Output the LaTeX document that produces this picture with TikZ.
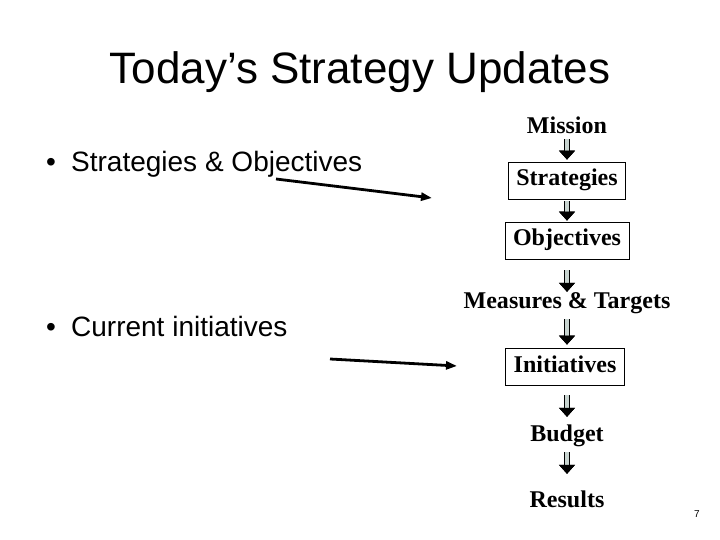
\documentclass[tikz,border=0pt]{standalone}
\usepackage{fontspec}
\setmainfont{Liberation Serif}
\setsansfont{Liberation Sans}
\usetikzlibrary{arrows.meta}
\definecolor{shaft}{RGB}{200,212,208}
\tikzset{
  step box/.style={draw, line width=0.8bp, minimum height=37bp, inner xsep=8bp,
    text height=16bp, text depth=5bp, font=\bfseries\fontsize{24bp}{28bp}\selectfont},
  step text/.style={anchor=base, inner sep=0pt, text height=16bp, text depth=5bp,
    font=\bfseries\fontsize{24bp}{28bp}\selectfont},
  point/.style={anchor=base west, inner sep=0pt, font=\sffamily\fontsize{28bp}{32bp}\selectfont},
  down/.style={line width=5.8bp,
    -{Triangle[length=9bp,width=16bp,line width=0.6bp,black]},
    postaction={draw=shaft, line width=4bp,
      -{Triangle[length=9bp,width=16bp,line width=0.6bp,black]}}},
  pointer/.style={line width=2.8bp, -{Triangle[length=11bp,width=8bp]}}
}
\begin{document}
\begin{tikzpicture}[x=1bp,y=-1bp]
      \useasboundingbox (0,0) rectangle (720,540);
      \node (title) at (360,84) [anchor=base, inner sep=0pt,
        font=\sffamily\fontsize{44bp}{50bp}\selectfont] {Today’s Strategy Updates};
      \draw
        (46,172) node[point] (a){\makebox[25bp][l]{•}Strategies \& Objectives}
        (46,336) node[point] (b){\makebox[25bp][l]{•}Current initiatives}
        (567,134) node[step text] (0){Mission}
        (567,180.5) node[step box] (1){Strategies}
        (567,240.5) node[step box] (2){Objectives}
        (567,308) node[step text] (3){Measures \& Targets}
        (565,366.5) node[step box] (4){Initiatives}
        (567,441) node[step text] (5){Budget}
        (567,507) node[step text] (6){Results};
      \node (page) at (697,517) [anchor=base, inner sep=0pt,
        font=\sffamily\fontsize{10bp}{12bp}\selectfont] {7};
      \coordinate (a1) at (276,179);
      \coordinate (a2) at (432,198);
      \coordinate (b1) at (330,359);
      \coordinate (b2) at (457,366);
      \draw[down, shorten >=2bp] (0.south) to (1.north);
      \draw[down, shorten <=2bp, shorten >=1bp] (1.south) to (2.north);
      \draw[down, shorten <=11bp] (2.south) to (3.north);
      \draw[down, shorten <=6bp, shorten >=3bp] (3.south) to (4.north -| 3.south);
      \draw[down, shorten <=10bp, shorten >=8bp] (4.south -| 5.north) to (5.north);
      \draw[down, shorten <=6bp, shorten >=17bp] (5.south) to (6.north);
      \begin{scope}[pointer]
        \draw (a1) to (a2);
        \draw (b1) to (b2);
      \end{scope}
    \end{tikzpicture}
\end{document}
